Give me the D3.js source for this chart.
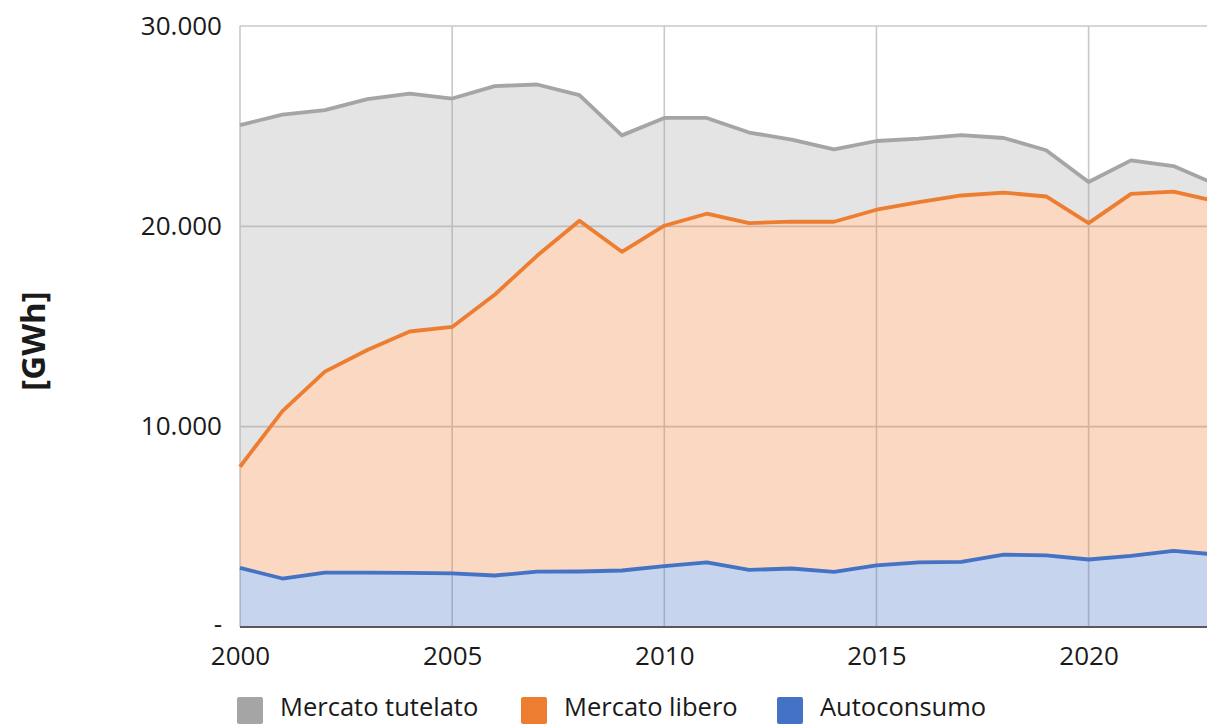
<!DOCTYPE html>
<html>
<head>
<meta charset="utf-8">
<script src="https://cdn.jsdelivr.net/npm/d3@7"></script>
<style>
    body{margin:0;background:#fff;overflow:hidden;}
    svg{display:block;font-family:"Open Sans",sans-serif;}
</style>
</head>
<body>
<div id="chart"></div>
<script>
'use strict';
// anni
var years = [2000,2001,2002,2003,2004,2005,2006,2007,2008,2009,2010,2011,
    2012,2013,2014,2015,2016,2017,2018,2019,2020,2021,2022,2023];
// GWh per serie (impilate: autoconsumo in basso)
var autoconsumo = [2950,2420,2710,2710,2700,2680,2570,2760,2770,2820,3040,3230,
    2850,2920,2750,3080,3230,3250,3610,3580,3370,3550,3800,3620];
var mercatoLibero = [5050,8360,10040,11120,12050,12300,14010,15770,17510,15910,16990,17400,
    17310,17310,17480,17750,17980,18290,18070,17910,16790,18070,17930,17630];
var mercatoTutelato = [17050,14800,13050,12520,11880,11400,10420,8550,6270,5810,5380,4780,
    4520,4100,3610,3430,3170,3010,2730,2310,2050,1670,1280,850];
var seriesNames = ["Mercato tutelato","Mercato libero","Autoconsumo"];
var seriesColors = ["#a5a5a5","#ed7d31","#4472c4"];
var xTicks = [2000,2005,2010,2015,2020,2025];
var yTicks = [0,10000,20000,30000];

var W = 1207, H = 724;
var margin = {top: 26, left: 240, bottom: 97};

var rows = years.map(function(y, i){
    return {year: y, auto: autoconsumo[i], libero: mercatoLibero[i], tutelato: mercatoTutelato[i]};
});
var keys = ["auto","libero","tutelato"];
var colorOf = {auto: seriesColors[2], libero: seriesColors[1], tutelato: seriesColors[0]};
var stacked = d3.stack().keys(keys)(rows);

var x = d3.scaleLinear().domain([2000, 2023]).range([margin.left, margin.left + 23*42.43]);
var y = d3.scaleLinear().domain([0, 30000]).range([H - margin.bottom, margin.top]);

var svg = d3.select("#chart").append("svg")
    .attr("width", W)
    .attr("height", H);

// griglia
svg.append("g").selectAll("line").data(yTicks.slice(1)).enter().append("line")
    .attr("x1", margin.left).attr("x2", W + 20)
    .attr("y1", function(d){ return y(d); }).attr("y2", function(d){ return y(d); })
    .attr("stroke", "#c9c9c9").attr("stroke-width", 1.6);
svg.append("g").selectAll("line").data(xTicks).enter().append("line")
    .attr("x1", function(d){ return x(d); }).attr("x2", function(d){ return x(d); })
    .attr("y1", y(30000)).attr("y2", y(0))
    .attr("stroke", "#c9c9c9").attr("stroke-width", 1.6);

// aree
var area = d3.area()
    .x(function(d){ return x(d.data.year); })
    .y0(function(d){ return y(d[0]); })
    .y1(function(d){ return y(d[1]); });
svg.append("g").selectAll("path").data(stacked).enter().append("path")
    .attr("d", area)
    .attr("fill", function(d){ return colorOf[d.key]; })
    .attr("fill-opacity", 0.3);

// linee
var line = d3.line()
    .x(function(d){ return x(d.data.year); })
    .y(function(d){ return y(d[1]); });
svg.append("g").selectAll("path").data(stacked).enter().append("path")
    .attr("d", line)
    .attr("fill", "none")
    .attr("stroke", function(d){ return colorOf[d.key]; })
    .attr("stroke-width", 3.8)
    .attr("stroke-linejoin", "round");

// asse x
var xAxis = svg.append("g")
    .attr("transform", "translate(0," + y(0) + ")")
    .call(d3.axisBottom(x).tickValues(xTicks.slice(0, 5)).tickFormat(d3.format("d")).tickSize(0).tickPadding(20));
xAxis.select(".domain").remove();
xAxis.selectAll("text").attr("font-size", 26).attr("fill", "#1a1a1a").attr("font-family", "Open Sans");
svg.append("line")
    .attr("x1", margin.left).attr("x2", W + 20)
    .attr("y1", y(0)).attr("y2", y(0))
    .attr("stroke", "#595959").attr("stroke-width", 2.2);

// asse y
var yAxis = svg.append("g")
    .attr("transform", "translate(" + margin.left + ",0)")
    .call(d3.axisLeft(y).tickValues(yTicks).tickSize(0).tickPadding(18)
        .tickFormat(function(d){ return d === 0 ? "-" : d3.format(",")(d).replace(/,/g, "."); }));
yAxis.select(".domain").remove();
yAxis.selectAll("text").attr("font-size", 26).attr("fill", "#1a1a1a").attr("font-family", "Open Sans");
yAxis.selectAll("text").filter(function(d){ return d === 0; }).attr("dy", "0.2em");

svg.append("text")
    .attr("transform", "translate(45,341) rotate(-90)")
    .attr("text-anchor", "middle")
    .attr("font-size", 33)
    .attr("font-weight", "bold")
    .attr("fill", "#1a1a1a")
    .text("[GWh]");

// legenda
var legendX = [237, 521, 777];
var legend = svg.append("g").selectAll("g").data(seriesNames).enter().append("g")
    .attr("transform", function(d, i){ return "translate(" + legendX[i] + ",697)"; });
legend.append("rect")
    .attr("width", 26).attr("height", 27)
    .attr("rx", 2)
    .attr("fill", function(d, i){ return seriesColors[i]; });
legend.append("text")
    .attr("x", 43).attr("y", 19)
    .attr("font-size", 25.5)
    .attr("fill", "#1a1a1a")
    .text(function(d){ return d; });
</script>
</body>
</html>
